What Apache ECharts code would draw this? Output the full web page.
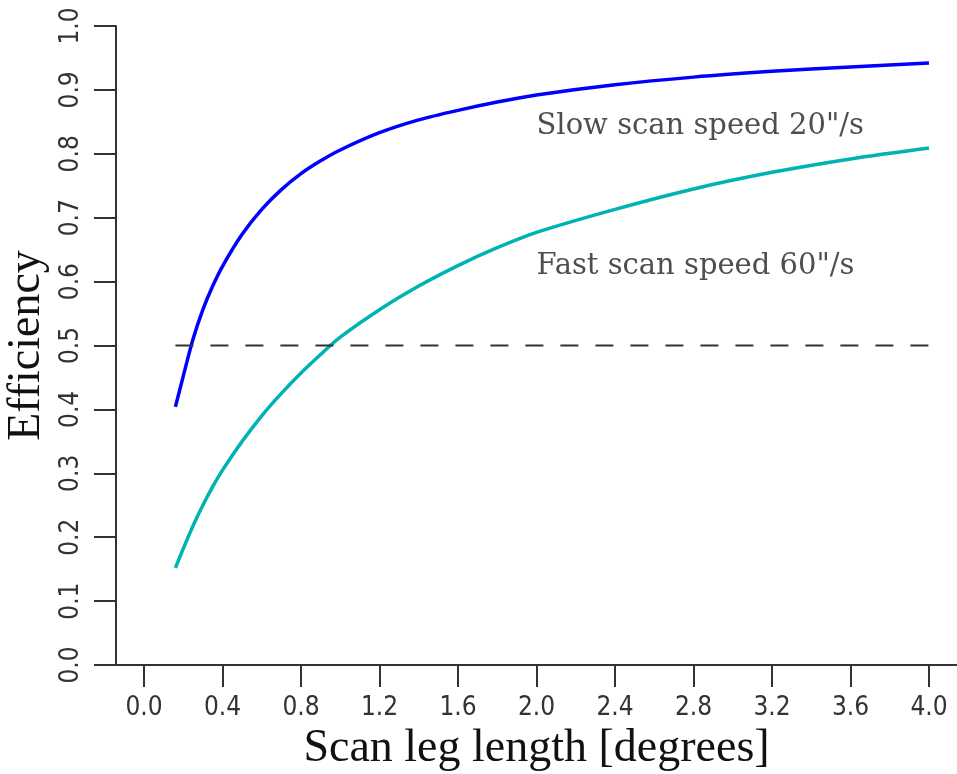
<!DOCTYPE html>
<html>
<head>
<meta charset="utf-8">
<script src="https://cdn.jsdelivr.net/npm/echarts@6/dist/echarts.min.js"></script>
<style>
  html, body { margin: 0; padding: 0; background: #fff; }
  #main { width: 957px; height: 774px; }
</style>
</head>
<body>
<div id="main"></div>
<script>
// scan leg length [degrees]
const legLength = [0.16, 0.2, 0.25, 0.3, 0.35, 0.4, 0.5, 0.6, 0.7, 0.8, 0.9, 1.0,
  1.2, 1.4, 1.6, 1.8, 2.0, 2.4, 2.8, 3.2, 3.6, 4.0];
// efficiency, slow scan 20"/s
const slowEff = [0.404, 0.452, 0.51, 0.556, 0.593, 0.624, 0.674, 0.713, 0.744, 0.769, 0.789, 0.806,
  0.833, 0.853, 0.868, 0.881, 0.892, 0.908, 0.92, 0.929, 0.936, 0.942];
// efficiency, fast scan 60"/s
const fastEff = [0.152, 0.182, 0.218, 0.25, 0.279, 0.305, 0.35, 0.39, 0.425, 0.457, 0.486, 0.513,
  0.556, 0.593, 0.625, 0.653, 0.677, 0.713, 0.745, 0.771, 0.792, 0.809];
// reference line
const refLine = [[0.16, 0.5], [4.0, 0.5]];
const labels = [
  { text: 'Slow scan speed 20"/s', x: 2.0, y: 0.842 },
  { text: 'Fast scan speed 60"/s', x: 2.0, y: 0.624 }
];

const axisColor = "#333";

const chart = echarts.init(document.getElementById("main"));

const option = {
  backgroundColor: "#fff",
  animation: false,
  grid: [
    { left: 144, right: 28, top: 26, bottom: 109, outerBoundsMode: "none" },
    { left: 116, right: 0, top: 26, bottom: 109, outerBoundsMode: "none" }
  ],
  xAxis: [
    {
      type: "value",
      gridIndex: 0,
      min: 0,
      max: 4,
      interval: 0.4,
      axisLine: { show: false },
      axisTick: { show: true, length: 22, lineStyle: { color: axisColor, width: 2 } },
      splitLine: { show: false },
      axisLabel: {
        color: axisColor,
        fontFamily: "DejaVu Sans Condensed",
        fontSize: 26,
        margin: 30,
        formatter: v => v.toFixed(1)
      },
      name: "Scan leg length [degrees]",
      nameLocation: "middle",
      nameGap: 60,
      nameTextStyle: { color: "#111", fontFamily: "Liberation Serif", fontSize: 46 }
    },
    {
      type: "value",
      gridIndex: 1,
      min: 0,
      max: 1,
      axisLine: { show: true, lineStyle: { color: axisColor, width: 2 } },
      axisTick: { show: false },
      axisLabel: { show: false },
      splitLine: { show: false }
    }
  ],
  yAxis: [
    { type: "value", gridIndex: 0, show: false, min: 0, max: 1 },
    {
      type: "value",
      gridIndex: 1,
      min: 0,
      max: 1,
      interval: 0.1,
      axisLine: { show: true, lineStyle: { color: axisColor, width: 2 } },
      axisTick: { show: true, length: 22, lineStyle: { color: axisColor, width: 2 } },
      splitLine: { show: false },
      axisLabel: {
        color: axisColor,
        fontFamily: "DejaVu Sans Condensed",
        fontSize: 26,
        rotate: 90,
        margin: 32,
        formatter: v => v.toFixed(1)
      },
      name: "Efficiency",
      nameLocation: "middle",
      nameGap: 66,
      nameRotate: 90,
      nameTextStyle: { color: "#111", fontFamily: "Liberation Serif", fontSize: 46 }
    }
  ],
  series: [
    {
      name: "slow",
      type: "line",
      smooth: 0.3,
      showSymbol: false,
      data: legLength.map((x, i) => [x, slowEff[i]]),
      lineStyle: { color: "#0000ff", width: 3.5 }
    },
    {
      name: "fast",
      type: "line",
      smooth: 0.3,
      showSymbol: false,
      data: legLength.map((x, i) => [x, fastEff[i]]),
      lineStyle: { color: "#00b3b3", width: 3.5 }
    },
    {
      name: "ref",
      type: "line",
      showSymbol: false,
      data: refLine,
      lineStyle: { color: "#333", width: 2, type: [18, 17] }
    },
    {
      name: "notes",
      type: "scatter",
      symbolSize: 0,
      data: labels.map(l => ({ value: [l.x, l.y], name: l.text })),
      label: {
        show: true,
        position: "right",
        distance: 0,
        formatter: p => p.name,
        color: "#222",
        fontFamily: "DejaVu Serif",
        fontSize: 29
      }
    }
  ]
};

chart.setOption(option);
</script>
</body>
</html>
